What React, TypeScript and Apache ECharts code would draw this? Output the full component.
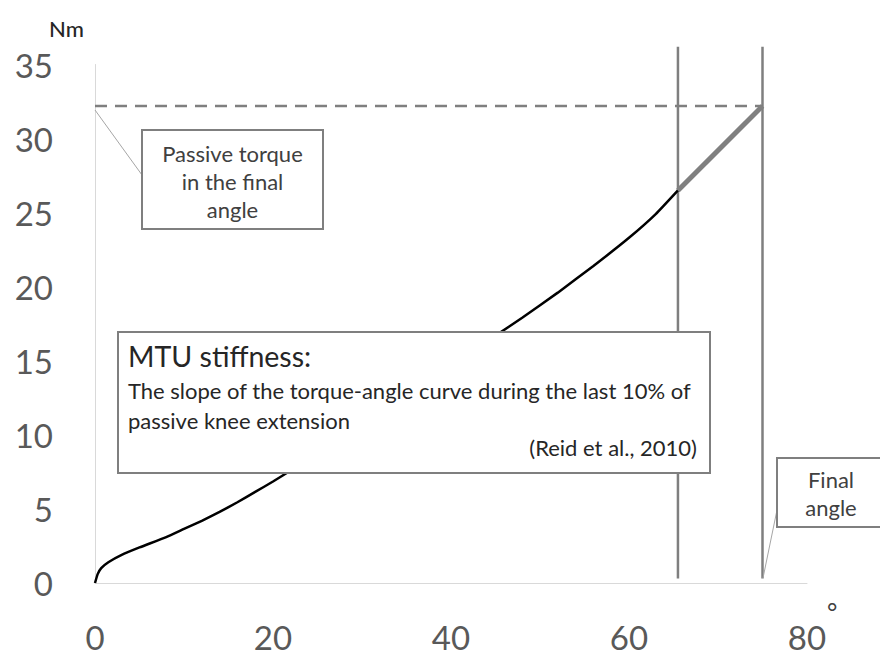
import React, { useEffect, useRef } from "react";
import * as echarts from "echarts";

// Torque-angle curve (black part), angle in degrees, torque in Nm
const curveAngle = [0, 0.3, 0.7, 1.5, 3, 5, 8, 10, 12, 14, 16, 18, 20, 22, 25, 30, 35, 40, 45, 48, 52, 56, 60, 63, 65.5];
const curveTorque = [0, 0.6, 1.0, 1.4, 1.9, 2.4, 3.1, 3.65, 4.2, 4.8, 5.45, 6.15, 6.85, 7.6, 8.75, 10.6, 12.6, 14.6, 16.7, 17.9, 19.6, 21.4, 23.3, 24.9, 26.5];

// Last 10% segment (grey, thick)
const slopeAngle = [65.5, 75];
const slopeTorque = [26.5, 32.2];

// Reference lines
const startAngle = 65.5;
const finalAngle = 75;
const finalTorque = 32.2;
const verticalTop = 36.2;

const xTicks = [0, 20, 40, 60, 80];
const yTicks = [0, 5, 10, 15, 20, 25, 30, 35];

export default function App() {
  const ref = useRef<HTMLDivElement>(null);
  useEffect(() => {
    document.body.style.margin = "0";
    const chart = echarts.init(ref.current!, undefined, { renderer: "svg" });
    const font = "Lato, 'Open Sans', sans-serif";
    const grey = "#7f7f7f";
    const boxText = "#404040";
    chart.setOption({
      animation: false,
      backgroundColor: "#ffffff",
      grid: { left: 95, right: 73, top: 64.5, bottom: 76 },
      xAxis: {
        type: "value",
        min: xTicks[0],
        max: xTicks[xTicks.length - 1],
        interval: 20,
        axisLine: { show: true, lineStyle: { color: "#d9d9d9", width: 1 } },
        axisTick: { show: false },
        splitLine: { show: false },
        axisLabel: { fontSize: 33, color: "#595959", fontFamily: font, margin: 37 },
      },
      yAxis: {
        type: "value",
        min: yTicks[0],
        max: yTicks[yTicks.length - 1],
        interval: 5,
        axisLine: { show: true, lineStyle: { color: "#d9d9d9", width: 1 } },
        axisTick: { show: false },
        splitLine: { show: false },
        axisLabel: { fontSize: 33, color: "#595959", fontFamily: font, margin: 42 },
      },
      series: [
        {
          type: "line",
          name: "verticalStart",
          data: [[startAngle, 0.3], [startAngle, verticalTop]],
          symbol: "none",
          clip: false,
          lineStyle: { color: grey, width: 2.5 },
          z: 1,
        },
        {
          type: "line",
          name: "verticalFinal",
          data: [[finalAngle, 0.3], [finalAngle, verticalTop]],
          symbol: "none",
          clip: false,
          lineStyle: { color: grey, width: 2.5 },
          z: 1,
        },
        {
          type: "line",
          name: "finalTorque",
          data: [[0, finalTorque], [finalAngle, finalTorque]],
          symbol: "none",
          clip: false,
          lineStyle: { color: grey, width: 2.5, type: [12, 8] },
          z: 1,
        },
        {
          type: "line",
          name: "curve",
          data: curveAngle.map((a, i) => [a, curveTorque[i]]),
          symbol: "none",
          smooth: 0.15,
          lineStyle: { color: "#000000", width: 2.5 },
          z: 2,
        },
        {
          type: "line",
          name: "slope",
          data: slopeAngle.map((a, i) => [a, slopeTorque[i]]),
          symbol: "none",
          lineStyle: { color: "#808080", width: 5 },
          z: 3,
        },
      ],
      graphic: [
        { type: "text", x: 49, y: 28, z: 100, style: { text: "Nm", font: `500 22px ${font}`, fill: "#262626", verticalAlign: "middle" } },
        { type: "text", x: 827, y: 611, z: 100, style: { text: "°", font: `25px ${font}`, fill: "#404040", verticalAlign: "middle" } },
        // Passive torque box
        { type: "line", z: 100, shape: { x1: 95, y1: 110, x2: 142, y2: 175 }, style: { stroke: "#a6a6a6", lineWidth: 1 } },
        { type: "rect", z: 100, shape: { x: 142, y: 130, width: 181, height: 99 }, style: { fill: "#ffffff", stroke: grey, lineWidth: 2 } },
        { type: "text", z: 101, x: 232.5, y: 153, style: { text: "Passive torque", font: `22px ${font}`, fill: boxText, align: "center", verticalAlign: "middle" } },
        { type: "text", z: 101, x: 232.5, y: 181, style: { text: "in the final", font: `22px ${font}`, fill: boxText, align: "center", verticalAlign: "middle" } },
        { type: "text", z: 101, x: 232.5, y: 209, style: { text: "angle", font: `22px ${font}`, fill: boxText, align: "center", verticalAlign: "middle" } },
        // MTU stiffness box
        { type: "rect", z: 100, shape: { x: 118, y: 332, width: 592, height: 141 }, style: { fill: "#ffffff", stroke: grey, lineWidth: 2 } },
        { type: "text", z: 101, x: 128, y: 356, style: { text: "MTU stiffness:", font: `28.5px ${font}`, fill: "#262626", verticalAlign: "middle" } },
        { type: "text", z: 101, x: 128, y: 390, style: { text: "The slope of the torque-angle curve during the last 10% of", font: `22px ${font}`, fill: "#262626", verticalAlign: "middle" } },
        { type: "text", z: 101, x: 128, y: 420, style: { text: "passive knee extension", font: `22px ${font}`, fill: "#262626", verticalAlign: "middle" } },
        { type: "text", z: 101, x: 697, y: 447, style: { text: "(Reid et al., 2010)", font: `22px ${font}`, fill: "#262626", align: "right", verticalAlign: "middle" } },
        // Final angle box
        { type: "line", z: 100, shape: { x1: 777, y1: 510, x2: 763, y2: 578 }, style: { stroke: "#a6a6a6", lineWidth: 1 } },
        { type: "rect", z: 100, shape: { x: 777, y: 458, width: 110, height: 69 }, style: { fill: "#ffffff", stroke: grey, lineWidth: 2 } },
        { type: "text", z: 101, x: 831, y: 479, style: { text: "Final", font: `22px ${font}`, fill: boxText, align: "center", verticalAlign: "middle" } },
        { type: "text", z: 101, x: 831, y: 507, style: { text: "angle", font: `22px ${font}`, fill: boxText, align: "center", verticalAlign: "middle" } },
      ],
    });
    return () => chart.dispose();
  }, []);
  return <div ref={ref} style={{ position: "fixed", left: 0, top: 0, width: 880, height: 659 }} />;
}
